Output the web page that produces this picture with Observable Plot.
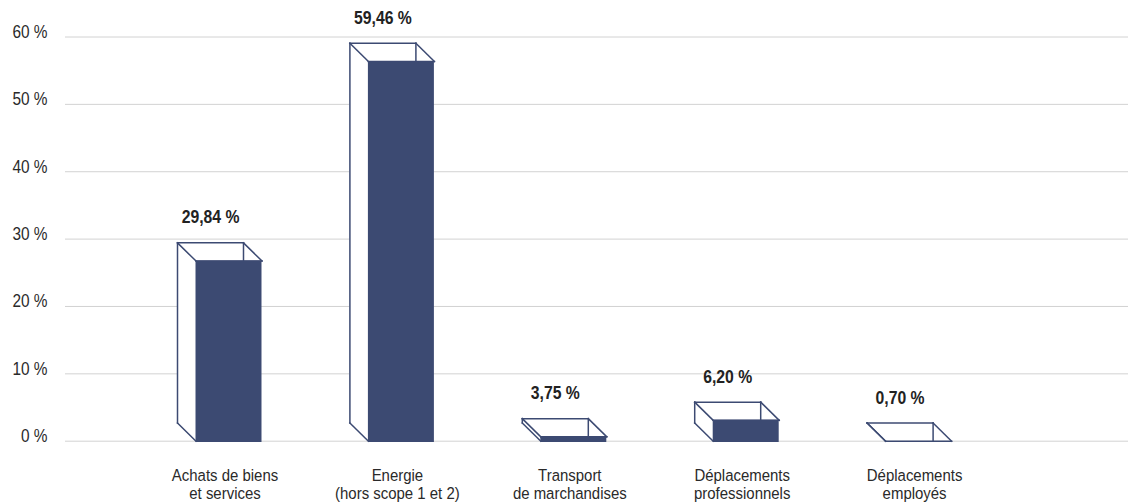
<!DOCTYPE html>
<html>
<head>
<meta charset="utf-8">
<script src="https://cdn.jsdelivr.net/npm/d3@7"></script>
<script src="https://cdn.jsdelivr.net/npm/@observablehq/plot@0.6"></script>
<style>
  html, body { margin: 0; padding: 0; background: #fff; }
  #chart svg { display: block; }
</style>
</head>
<body>
<div id="chart"></div>
<script>
// ---- data ----
const categories = [
  "Achats de biens\net services",
  "Energie\n(hors scope 1 et 2)",
  "Transport\nde marchandises",
  "Déplacements\nprofessionnels",
  "Déplacements\nemployés"
];
const values = [29.84, 59.46, 3.75, 6.20, 0.70];
const valueLabels = ["29,84 %", "59,46 %", "3,75 %", "6,20 %", "0,70 %"];
const yTicks = [0, 10, 20, 30, 40, 50, 60];
const yTickLabels = ["0 %", "10 %", "20 %", "30 %", "40 %", "50 %", "60 %"];

// ---- style constants (3D look) ----
const NAVY = "#3c4a72";
const FONT = '"Liberation Sans", Arial, Helvetica, sans-serif';
const HW = 0.1914;      // half bar width (category units)
const SHIFT = 0.0232;   // front face shift (category units)
const DX = 0.1073;      // depth along x (category units)
const DY = 2.7;         // depth along y (% units)
const CUT = 3.1;        // front face height reduction (% units)

const bars = values.map((v, i) => {
  const h = Math.max(0, v - CUT);
  const fx0 = i + SHIFT - HW, fx1 = i + SHIFT + HW;
  const bx0 = fx0 - DX, bx1 = fx1 - DX;
  return {i, v, h, fx0, fx1, bx0, bx1, label: valueLabels[i], cat: categories[i]};
});

const segs = [];
for (const b of bars) {
  const top = b.h + DY;
  segs.push({x1: b.bx0, y1: top, x2: b.bx1, y2: top});        // back top edge
  segs.push({x1: b.bx0, y1: top, x2: b.bx0, y2: DY});         // back left edge
  segs.push({x1: b.bx1, y1: top, x2: b.bx1, y2: b.h});        // back right edge (visible part)
  segs.push({x1: b.bx0, y1: top, x2: b.fx0, y2: b.h});        // top-left diagonal
  segs.push({x1: b.bx1, y1: top, x2: b.fx1, y2: b.h});        // top-right diagonal
  segs.push({x1: b.bx0, y1: DY, x2: b.fx0, y2: 0});           // bottom-left diagonal
  segs.push({x1: b.fx0, y1: b.h, x2: b.fx1, y2: b.h});        // front top edge
}

const plot = Plot.plot({
  width: 1130,
  height: 504,
  marginLeft: 65,
  marginRight: 2,
  marginTop: 36,
  marginBottom: 63,
  style: {fontFamily: FONT, background: "#fff"},
  x: {domain: [0, 4], range: [224.5, 914.1], axis: null},
  y: {domain: [0, 60], range: [440.7, 36.5], axis: null},
  marks: [
    Plot.ruleY(yTicks, {stroke: "#d2d2d2", strokeWidth: 1}),
    Plot.text(yTicks, {
      y: d => d, text: (d, i) => yTickLabels[i], frameAnchor: "left",
      dx: -18, dy: 1, textAnchor: "end", lineAnchor: "bottom",
      fontSize: 17.5, fill: "#2a2a2a", className: "narrow"
    }),
    // back face (white, hides grid)
    Plot.rect(bars, {x1: "bx0", x2: "bx1", y1: DY, y2: d => d.h + DY, fill: "white"}),
    // left face fill
    Plot.rect(bars, {x1: "bx0", x2: "fx0", y1: 0.4, y2: d => d.h + DY, fill: "white"}),
    Plot.link(segs, {x1: "x1", y1: "y1", x2: "x2", y2: "y2", stroke: NAVY, strokeWidth: 1.5, strokeLinecap: "square"}),
    // front face
    Plot.rect(bars.filter(b => b.h > 0), {x1: "fx0", x2: "fx1", y1: 0, y2: "h", fill: NAVY, insetBottom: -1.3}),
    // value labels
    Plot.text(bars, {
      x: d => (d.bx0 + d.bx1) / 2, y: d => d.h + DY, text: "label",
      dy: -19.5, lineAnchor: "bottom", fontSize: 17.5, fontWeight: "bold", fill: "#222",
      className: "narrowbold"
    }),
    // category labels
    Plot.text(bars, {
      x: "i", y: () => 0, text: "cat", dy: 27, lineAnchor: "top",
      lineHeight: 1.05, fontSize: 17, fill: "#2a2a2a", className: "narrow"
    })
  ]
});

// condense the text horizontally to mimic a narrow typeface
function condense(sel, k) {
  d3.select(plot).selectAll(sel + " text").each(function () {
    const t = d3.select(this);
    const tr = t.attr("transform");
    if (tr) {
      t.attr("transform", tr + ` scale(${k},1)`);
    } else {
      const x = +t.attr("x") || 0;
      t.attr("transform", `translate(${x},0) scale(${k},1) translate(${-x},0)`);
    }
  });
}
condense("g.narrow", 0.88);
condense("g.narrowbold", 0.9);

document.getElementById("chart").appendChild(plot);
</script>
</body>
</html>
